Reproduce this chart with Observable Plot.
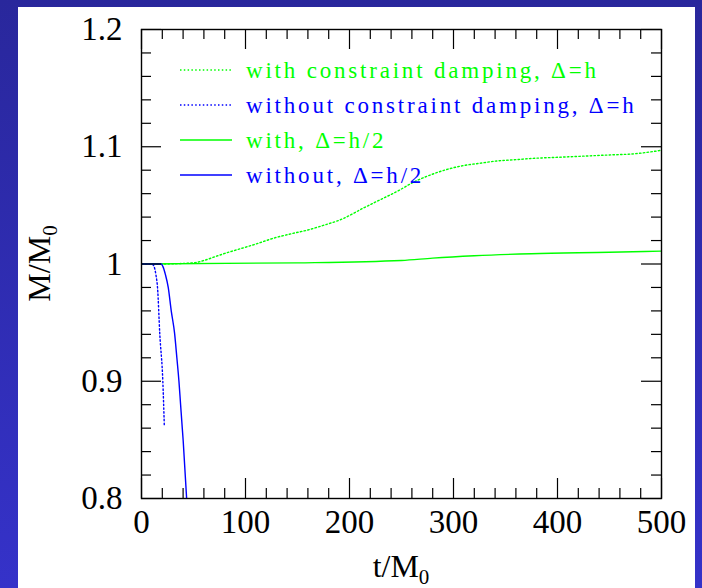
<!DOCTYPE html>
<html>
<head>
<meta charset="utf-8">
<script src="https://cdn.jsdelivr.net/npm/d3@7"></script>
<script src="https://cdn.jsdelivr.net/npm/@observablehq/plot@0.6"></script>
<style>
  html, body { margin: 0; padding: 0; }
  body { width: 702px; height: 588px; overflow: hidden;
         background: linear-gradient(to bottom, #29279c, #3532c9); position: relative; }
  #paper { position: absolute; left: 18px; top: 7px; width: 677px; height: 581px; background: #fff; }
  #chart { position: absolute; left: 0; top: 0; }
  #chart svg { background: transparent; }
</style>
</head>
<body>
<div id="paper"></div>
<div id="chart"></div>
<script>
// ---- data ----
const tGreenDot = [0, 20, 40, 50, 60, 70, 80, 95, 110, 127, 145, 160, 175, 192, 214, 230, 246, 262, 278, 295, 310, 326, 343, 360, 375, 400, 425, 450, 474, 500];
const mGreenDot = [1.0, 1.0, 1.0005, 1.001, 1.003, 1.006, 1.009, 1.013, 1.017, 1.022, 1.026, 1.029, 1.033, 1.038, 1.048, 1.055, 1.062, 1.070, 1.076, 1.081, 1.084, 1.086, 1.088, 1.089, 1.090, 1.091, 1.092, 1.093, 1.094, 1.097];
const tBlueDot = [0, 10, 12, 14, 15.4, 17.6, 20.5, 21.9];
const mBlueDot = [1.0, 1.0, 0.998, 0.99, 0.98, 0.94, 0.90, 0.863];
const tGreenSolid = [0, 150, 250, 280, 320, 375, 450, 500];
const mGreenSolid = [1.0, 1.001, 1.003, 1.005, 1.007, 1.0088, 1.010, 1.011];
const tBlueSolid = [0, 19, 20.5, 23, 25.7, 28.6, 31.8, 34, 36, 37.6, 39.2, 40.1, 43.4];
const mBlueSolid = [1.0, 1.0, 0.998, 0.991, 0.98, 0.96, 0.941, 0.92, 0.90, 0.88, 0.86, 0.849, 0.80];

const seriesNames = ["with constraint damping, \u0394=h", "without constraint damping, \u0394=h", "with, \u0394=h/2", "without, \u0394=h/2"];
const seriesColors = ["#00ff00", "#0000ff", "#00ff00", "#0000ff"];
const seriesDotted = [true, true, false, false];

const xMajor = [0, 100, 200, 300, 400, 500];
const xMinor = d3.range(0, 501, 20).filter(v => v % 100 !== 0);
const yMajor = [0.8, 0.9, 1.0, 1.1, 1.2];
const yMinor = d3.range(0, 21).map(i => +(0.8 + i * 0.02).toFixed(2)).filter(v => !yMajor.some(m => Math.abs(m - v) < 1e-9));
const yLabels = ["0.8", "0.9", "1", "1.1", "1.2"];
const xLabel = ["t/M", "0"];
const yLabel = ["M/M", "0"];

// ---- layout ----
const W = 702, H = 588;
const mL = 141, mR = 41, mT = 29, mB = 90;
const iw = W - mL - mR, ih = H - mT - mB;
const major = 20, minor = 10;
const DASH = "1.5,2.3";

const zip = (t, m) => t.map((v, i) => ({t: v, m: m[i]}));
const curves = [zip(tGreenDot, mGreenDot), zip(tBlueDot, mBlueDot), zip(tGreenSolid, mGreenSolid), zip(tBlueSolid, mBlueSolid)];

const font = "'Liberation Serif', 'DejaVu Serif', serif";

const plot = Plot.plot({
  width: W, height: H,
  marginLeft: mL, marginRight: mR, marginTop: mT, marginBottom: mB,
  style: {background: "transparent", fontFamily: font, color: "#000"},
  x: {domain: [0, 500]},
  y: {domain: [0.8, 1.2]},
  marks: [
    ...curves.map((d, i) => Plot.line(d, {
      x: "t", y: "m", stroke: seriesColors[i], strokeWidth: 1.4,
      strokeDasharray: seriesDotted[i] ? DASH : null, clip: true, curve: "monotone-x"
    })),
    Plot.ruleX(xMajor, {stroke: "#000", strokeWidth: 1.2, insetTop: ih - major}),
    Plot.ruleX(xMajor, {stroke: "#000", strokeWidth: 1.2, insetBottom: ih - major}),
    Plot.ruleX(xMinor, {stroke: "#000", strokeWidth: 1.2, insetTop: ih - minor}),
    Plot.ruleX(xMinor, {stroke: "#000", strokeWidth: 1.2, insetBottom: ih - minor}),
    Plot.ruleY(yMajor, {stroke: "#000", strokeWidth: 1.2, insetRight: iw - major}),
    Plot.ruleY(yMajor, {stroke: "#000", strokeWidth: 1.2, insetLeft: iw - major}),
    Plot.ruleY(yMinor, {stroke: "#000", strokeWidth: 1.2, insetRight: iw - minor}),
    Plot.ruleY(yMinor, {stroke: "#000", strokeWidth: 1.2, insetLeft: iw - minor}),
    Plot.frame({stroke: "#000", strokeWidth: 1.4}),
    Plot.axisX({ticks: xMajor, tickSize: 0, tickPadding: 11, fontSize: 33, label: null, tickFormat: d => String(d)}),
    Plot.axisY({ticks: yMajor, tickSize: 0, tickPadding: 19, fontSize: 33, label: null,
      tickFormat: d => yLabels[yMajor.findIndex(v => Math.abs(v - d) < 1e-9)]})
  ]
});
document.getElementById("chart").appendChild(plot);

const svg = d3.select(plot);
const leg = svg.append("g").attr("text-anchor", "start");
const rowY = [70, 105, 140, 175];
seriesNames.forEach((name, i) => {
  leg.append("line")
    .attr("x1", mL + 39).attr("x2", mL + 91)
    .attr("y1", rowY[i]).attr("y2", rowY[i])
    .attr("stroke", seriesColors[i]).attr("stroke-width", 1.4)
    .attr("stroke-dasharray", seriesDotted[i] ? DASH : null);
  leg.append("text")
    .attr("x", mL + 105).attr("y", rowY[i])
    .attr("dy", "0.35em")
    .attr("text-anchor", "start")
    .attr("fill", seriesColors[i])
    .style("font-family", font).style("font-size", "23px").style("letter-spacing", "2.8px")
    .text(name);
});
const xt = svg.append("text")
  .attr("x", mL + iw / 2).attr("y", 577)
  .attr("text-anchor", "middle")
  .style("font-family", font).style("font-size", "32px").attr("fill", "#000");
xt.append("tspan").text(xLabel[0]);
xt.append("tspan").attr("dy", 7).style("font-size", "21px").text(xLabel[1]);

const yt = svg.append("text")
  .attr("transform", `translate(50,${mT + ih / 2}) rotate(-90)`)
  .attr("text-anchor", "middle")
  .style("font-family", font).style("font-size", "32px").attr("fill", "#000");
yt.append("tspan").text(yLabel[0]);
yt.append("tspan").attr("dy", 7).style("font-size", "21px").text(yLabel[1]);
</script>
</body>
</html>
